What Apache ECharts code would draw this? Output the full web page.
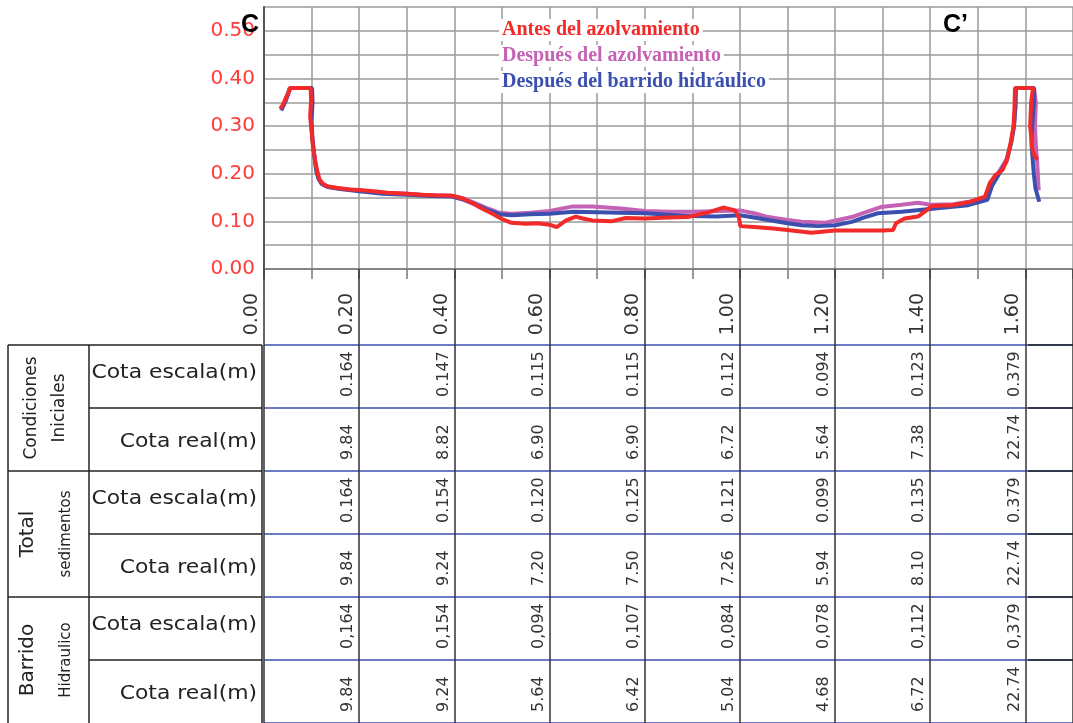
<!DOCTYPE html>
<html>
<head>
<meta charset="utf-8">
<script src="https://cdn.jsdelivr.net/npm/echarts@6/dist/echarts.min.js"></script>
<style>
  html, body { margin: 0; padding: 0; background: #fff; }
  #chart { width: 1073px; height: 723px; }
</style>
</head>
<body>
<div id="chart"></div>
<script>
// profile points [distance, cota]
const antesAzolvamiento = [
  [0.034,0.336],[0.040,0.345],[0.047,0.362],[0.052,0.372],[0.055,0.380],[0.075,0.380],[0.098,0.380],
  [0.099,0.355],[0.097,0.320],[0.100,0.290],[0.103,0.255],[0.108,0.225],[0.112,0.205],[0.117,0.187],
  [0.125,0.178],[0.135,0.173],[0.155,0.170],[0.180,0.167],[0.200,0.166],[0.230,0.163],[0.260,0.160],
  [0.300,0.158],[0.330,0.156],[0.360,0.155],[0.395,0.154],[0.420,0.147],[0.440,0.137],[0.460,0.126],
  [0.480,0.116],[0.500,0.105],[0.520,0.097],[0.550,0.095],[0.575,0.096],[0.600,0.093],[0.615,0.088],
  [0.635,0.102],[0.655,0.110],[0.670,0.106],[0.690,0.102],[0.730,0.100],[0.760,0.107],[0.800,0.106],
  [0.850,0.108],[0.890,0.109],[0.930,0.118],[0.965,0.129],[0.990,0.123],[0.998,0.108],[1.001,0.090],
  [1.030,0.088],[1.070,0.085],[1.100,0.082],[1.150,0.076],[1.200,0.081],[1.250,0.081],[1.300,0.081],
  [1.322,0.082],[1.328,0.096],[1.346,0.106],[1.374,0.110],[1.395,0.125],[1.402,0.132],[1.445,0.134],
  [1.480,0.140],[1.515,0.152],[1.525,0.180],[1.537,0.197],[1.552,0.208],[1.562,0.232],[1.569,0.265],
  [1.575,0.300],[1.577,0.338],[1.578,0.380],[1.600,0.380],[1.616,0.380],[1.612,0.350],[1.610,0.300],
  [1.614,0.255],[1.618,0.240],[1.625,0.229]
];
const despuesAzolvamiento = [
  [0.038,0.338],[0.045,0.352],[0.052,0.370],[0.056,0.380],[0.080,0.380],[0.100,0.380],[0.101,0.350],
  [0.099,0.310],[0.101,0.280],[0.105,0.245],[0.109,0.215],[0.114,0.192],[0.120,0.180],[0.135,0.172],
  [0.160,0.169],[0.200,0.165],[0.250,0.160],[0.300,0.158],[0.350,0.155],[0.395,0.154],[0.420,0.148],
  [0.445,0.138],[0.470,0.127],[0.495,0.118],[0.520,0.116],[0.560,0.118],[0.600,0.122],[0.647,0.131],
  [0.690,0.131],[0.750,0.127],[0.800,0.122],[0.850,0.120],[0.900,0.120],[0.960,0.122],[1.000,0.123],
  [1.030,0.117],[1.060,0.109],[1.100,0.103],[1.130,0.099],[1.180,0.097],[1.235,0.109],[1.260,0.118],
  [1.296,0.130],[1.340,0.135],[1.374,0.139],[1.401,0.135],[1.450,0.136],[1.480,0.141],[1.520,0.150],
  [1.530,0.178],[1.545,0.205],[1.560,0.230],[1.570,0.265],[1.576,0.300],[1.579,0.340],[1.580,0.380],
  [1.600,0.380],[1.618,0.380],[1.622,0.350],[1.620,0.300],[1.622,0.260],[1.625,0.220],[1.627,0.180],
  [1.628,0.165]
];
const despuesBarrido = [
  [0.036,0.333],[0.042,0.345],[0.048,0.360],[0.054,0.380],[0.080,0.380],[0.101,0.380],[0.102,0.350],
  [0.100,0.310],[0.102,0.270],[0.106,0.235],[0.110,0.205],[0.115,0.188],[0.122,0.178],[0.135,0.172],
  [0.160,0.168],[0.200,0.163],[0.250,0.158],[0.300,0.156],[0.350,0.153],[0.395,0.152],[0.420,0.145],
  [0.445,0.135],[0.470,0.124],[0.495,0.115],[0.520,0.113],[0.560,0.115],[0.600,0.116],[0.650,0.120],
  [0.700,0.119],[0.750,0.118],[0.800,0.117],[0.850,0.114],[0.900,0.111],[0.950,0.110],[1.000,0.113],
  [1.030,0.108],[1.060,0.103],[1.100,0.096],[1.130,0.092],[1.165,0.090],[1.200,0.092],[1.235,0.099],
  [1.260,0.108],[1.290,0.117],[1.340,0.120],[1.410,0.127],[1.480,0.134],[1.520,0.145],[1.530,0.175],
  [1.545,0.200],[1.560,0.225],[1.570,0.265],[1.576,0.300],[1.579,0.340],[1.580,0.380],[1.600,0.380],
  [1.618,0.380],[1.618,0.350],[1.614,0.300],[1.613,0.260],[1.615,0.233],[1.618,0.197],[1.621,0.170],
  [1.629,0.141]
];

// table under the profile
const tableColumns = [0.2, 0.4, 0.6, 0.8, 1.0, 1.2, 1.4, 1.6];
const ciEscala = [0.164, 0.147, 0.115, 0.115, 0.112, 0.094, 0.123, 0.379];
const ciReal = [9.84, 8.82, 6.90, 6.90, 6.72, 5.64, 7.38, 22.74];
const tsEscala = [0.164, 0.154, 0.120, 0.125, 0.121, 0.099, 0.135, 0.379];
const tsReal = [9.84, 9.24, 7.20, 7.50, 7.26, 5.94, 8.10, 22.74];
const bhEscala = [0.164, 0.154, 0.094, 0.107, 0.084, 0.078, 0.112, 0.379];
const bhReal = [9.84, 9.24, 5.64, 6.42, 5.04, 4.68, 6.72, 22.74];
const rowLabels = ['Cota escala(m)', 'Cota real(m)', 'Cota escala(m)', 'Cota real(m)', 'Cota escala(m)', 'Cota real(m)'];
const groupLabels = [['Condiciones', 'Iniciales'], ['Total', 'sedimentos'], ['Barrido', 'Hidraulico']];

const RED = '#f22a2a', PURPLE = '#c463b6', BLUE = '#3b4fae';
const GRID_GRAY = '#9a9a9a';
const CAD_FONT = 'DejaVu Sans';

const tableRows = [
  { vals: ciEscala, dec: 3, sep: '.' },
  { vals: ciReal, dec: 2, sep: '.' },
  { vals: tsEscala, dec: 3, sep: '.' },
  { vals: tsReal, dec: 2, sep: '.' },
  { vals: bhEscala, dec: 3, sep: ',' },
  { vals: bhReal, dec: 2, sep: '.' }
];
const tableData = [];
const tableText = [];
tableRows.forEach((r, ri) => {
  r.vals.forEach((v, ci) => {
    tableData.push([tableColumns[ci], ri]);
    tableText.push(v.toFixed(r.dec).replace('.', r.sep));
  });
});

const TABLE_TOP = 345, ROW_H = 63;
const graphics = [];
// label column borders
const addLine = (x1, y1, x2, y2, color) => graphics.push({
  type: 'line', shape: { x1, y1, x2, y2 }, style: { stroke: color || '#222', lineWidth: 1.5 }, silent: true, z: 5
});
addLine(8, TABLE_TOP, 8, 723);
addLine(89, TABLE_TOP, 89, 723);
addLine(262, TABLE_TOP, 262, 723);
addLine(8, TABLE_TOP, 262, TABLE_TOP);
for (let r = 1; r < 6; r++) {
  const y = TABLE_TOP + r * ROW_H;
  addLine(r % 2 === 0 ? 8 : 89, y, 262, y);
}
for (let r = 0; r < 6; r++) {
  const y = TABLE_TOP + r * ROW_H;
  addLine(1028, y, 1073, y);
}
rowLabels.forEach((t, i) => {
  graphics.push({
    type: 'text', x: 257, y: TABLE_TOP + i * ROW_H + ROW_H / 2 + (i % 2 ? 3 : -3), scaleX: 1.15,
    style: { text: t, font: '19px ' + CAD_FONT, fill: '#222', align: 'right', verticalAlign: 'middle' }
  });
});
groupLabels.forEach((g, i) => {
  const cy = TABLE_TOP + i * 2 * ROW_H + ROW_H;
  graphics.push({
    type: 'text', x: i === 0 ? 32 : 28, y: cy, rotation: Math.PI / 2,
    style: { text: g[0], font: (i === 0 ? 17 : 20) + 'px ' + CAD_FONT, fill: '#222', align: 'center', verticalAlign: 'middle' }
  });
  graphics.push({
    type: 'text', x: i === 0 ? 60 : 66, y: cy, rotation: Math.PI / 2,
    style: { text: g[1], font: (i === 0 ? 17 : 15) + 'px ' + CAD_FONT, fill: '#222', align: 'center', verticalAlign: 'middle' }
  });
});
graphics.push({ type: 'text', x: 241, y: 13, style: { text: 'C', font: 'bold 25px "Liberation Sans"', fill: '#000' }, z: 10 });
graphics.push({ type: 'text', x: 943, y: 13, style: { text: 'C\u2019', font: 'bold 25px "Liberation Sans"', fill: '#000' }, z: 10 });

const is02 = (v) => Math.round(v * 10) % 2 === 0;

const chart = echarts.init(document.getElementById('chart'), null, { renderer: 'canvas' });
chart.setOption({
  animation: false,
  backgroundColor: '#fff',
  legend: {
    orient: 'vertical', left: 489, top: 14, itemGap: 4, itemWidth: 0, itemHeight: 20,
    icon: 'none', selectedMode: false,
    textStyle: { fontFamily: 'Liberation Serif', fontWeight: 'bold', fontSize: 20, backgroundColor: '#fff', padding: [1, 3] },
    data: [
      { name: 'Antes del azolvamiento', textStyle: { color: RED } },
      { name: 'Después del azolvamiento', textStyle: { color: PURPLE } },
      { name: 'Después del barrido hidráulico', textStyle: { color: BLUE } }
    ]
  },
  grid: [
    { left: 264, right: -3, top: 7, bottom: 454 },
    { left: 264, right: -3, top: TABLE_TOP, bottom: 0 }
  ],
  xAxis: [
    {
      type: 'value', gridIndex: 0, min: 0, max: 1.7, interval: 0.1,
      axisLine: { lineStyle: { color: '#777', width: 1.5 } },
      axisTick: { length: 10, lineStyle: { color: '#777', width: 1.5 } },
      axisLabel: { show: false },
      splitLine: { lineStyle: { color: GRID_GRAY, width: 1.5 } }
    },
    {
      type: 'value', gridIndex: 0, position: 'bottom', min: 0, max: 1.7, interval: 0.2,
      axisLine: { show: false },
      axisTick: { length: 76, lineStyle: { color: '#333', width: 1.5 } },
      splitLine: { show: false },
      axisLabel: {
        rotate: 90, margin: 24, verticalAlign: 'bottom', lineHeight: 24,
        color: '#333', fontSize: 19, fontFamily: CAD_FONT,
        formatter: (v) => v > 1.65 ? '' : v.toFixed(2)
      }
    },
    {
      type: 'value', gridIndex: 1, min: 0, max: 1.7, interval: 0.2,
      axisLine: { show: false }, axisTick: { show: false }, axisLabel: { show: false },
      splitLine: { lineStyle: { color: '#333', width: 1.5 } }
    }
  ],
  yAxis: [
    {
      type: 'value', gridIndex: 0, min: 0, max: 0.55, interval: 0.05,
      axisLine: { show: true, lineStyle: { color: '#555', width: 2 } },
      axisTick: { show: false },
      splitLine: { lineStyle: { color: GRID_GRAY, width: 1.5 } },
      axisLabel: {
        color: '#ff3b3b', fontSize: 20, fontFamily: CAD_FONT, margin: 9,
        formatter: (v) => is02(v * 2) ? v.toFixed(2) : ''
      }
    },
    {
      type: 'value', gridIndex: 1, min: 0, max: 6, interval: 1, inverse: true,
      axisLine: { show: false }, axisTick: { show: false }, axisLabel: { show: false },
      splitLine: { lineStyle: { color: '#3c4fb4', width: 1.5 } }
    }
  ],
  graphic: graphics,
  series: [
    {
      name: 'Después del azolvamiento', type: 'line', xAxisIndex: 0, yAxisIndex: 0,
      data: despuesAzolvamiento, showSymbol: false, color: PURPLE,
      lineStyle: { width: 4, color: PURPLE }, z: 3
    },
    {
      name: 'Después del barrido hidráulico', type: 'line', xAxisIndex: 0, yAxisIndex: 0,
      data: despuesBarrido, showSymbol: false, color: BLUE,
      lineStyle: { width: 4, color: BLUE }, z: 4
    },
    {
      name: 'Antes del azolvamiento', type: 'line', xAxisIndex: 0, yAxisIndex: 0,
      data: antesAzolvamiento, showSymbol: false, color: RED,
      lineStyle: { width: 4, color: RED }, z: 5
    },
    {
      name: 'tabla', type: 'custom', xAxisIndex: 2, yAxisIndex: 1,
      data: tableData, silent: true,
      renderItem: function (params, api) {
        const p = api.coord([api.value(0), api.value(1) + 1]);
        return {
          type: 'text', x: p[0] - 3, y: p[1] - 11, rotation: Math.PI / 2,
          style: {
            text: tableText[params.dataIndex], font: '16px ' + CAD_FONT, fill: '#333',
            align: 'left', verticalAlign: 'bottom'
          }
        };
      }
    }
  ]
});
</script>
</body>
</html>
